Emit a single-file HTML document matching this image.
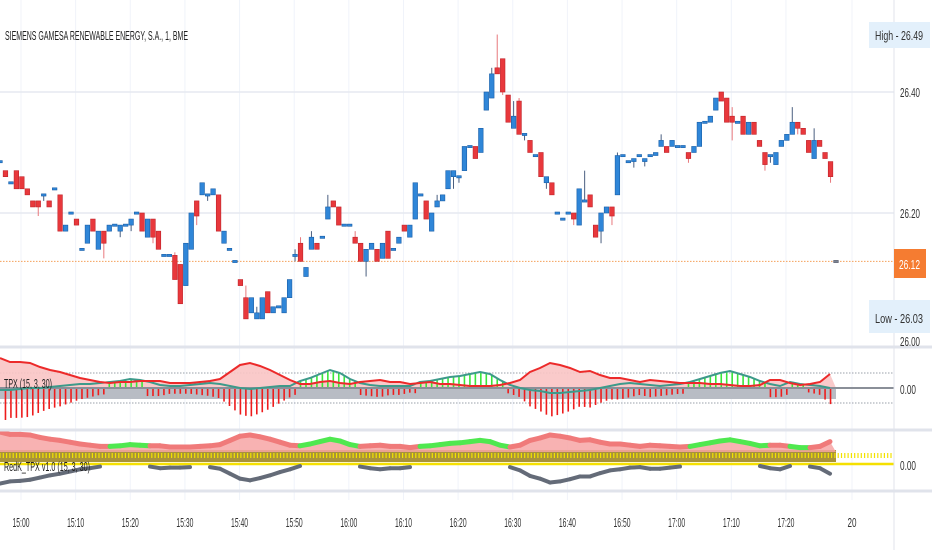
<!DOCTYPE html>
<html><head><meta charset="utf-8"><style>
html,body{margin:0;padding:0;background:#fff;width:932px;height:550px;overflow:hidden}
svg{display:block;font-family:"Liberation Sans",sans-serif}
</style></head><body>
<svg id="chart" width="932" height="550" viewBox="0 0 932 550" xmlns="http://www.w3.org/2000/svg">
<g id="grid"></g>
<g id="candles"></g>
<g id="p2"></g>
<g id="p3"></g>
<g id="axes"></g>
</svg>
<script>
// ---- data ----
const opens  = [26.285,26.27,26.25,26.27,26.26,26.24,26.22,26.22,26.23,26.22,26.24,26.23,26.17,26.2,26.19,26.14,26.15,26.19,26.14,26.17,26.17,26.18,26.17,26.18,26.18,26.2,26.2,26.16,26.19,26.17,26.13,26.13,26.13,26.115,26.08,26.14,26.22,26.23,26.23,26.23,26.23,26.15,26.14,26.12,26.09,26.06,26.035,26.025,26.025,26.07,26.035,26.045,26.035,26.06,26.13,26.15,26.095,26.14,26.15,26.16,26.19,26.22,26.21,26.18,26.18,26.16,26.15,26.12,26.14,26.14,26.125,26.17,26.14,26.15,26.18,26.16,26.19,26.23,26.22,26.17,26.21,26.22,26.24,26.26,26.26,26.27,26.31,26.31,26.3,26.37,26.39,26.44,26.455,26.395,26.34,26.385,26.33,26.32,26.295,26.3,26.25,26.25,26.2,26.19,26.2,26.2,26.18,26.22,26.23,26.18,26.17,26.2,26.21,26.23,26.295,26.285,26.285,26.295,26.285,26.295,26.295,26.31,26.31,26.31,26.31,26.31,26.3,26.3,26.31,26.35,26.35,26.37,26.4,26.39,26.36,26.35,26.36,26.33,26.35,26.32,26.3,26.295,26.28,26.31,26.32,26.33,26.35,26.34,26.32,26.29,26.32,26.3,26.285,26.12];
const closes = [26.285,26.26,26.25,26.24,26.24,26.23,26.21,26.21,26.23,26.21,26.24,26.17,26.18,26.2,26.18,26.14,26.18,26.17,26.17,26.15,26.18,26.18,26.18,26.18,26.19,26.2,26.17,26.19,26.16,26.14,26.13,26.13,26.09,26.05,26.15,26.2,26.195,26.25,26.23,26.24,26.17,26.17,26.14,26.12,26.08,26.025,26.06,26.035,26.06,26.035,26.045,26.045,26.06,26.09,26.13,26.12,26.11,26.16,26.14,26.16,26.21,26.21,26.18,26.18,26.18,26.15,26.12,26.14,26.15,26.12,26.15,26.125,26.14,26.16,26.17,26.18,26.25,26.23,26.19,26.2,26.22,26.23,26.27,26.27,26.26,26.31,26.31,26.29,26.34,26.4,26.43,26.43,26.4,26.35,26.36,26.33,26.33,26.3,26.295,26.26,26.26,26.23,26.2,26.19,26.2,26.19,26.24,26.22,26.21,26.16,26.2,26.21,26.195,26.295,26.295,26.285,26.29,26.295,26.29,26.295,26.3,26.32,26.3,26.32,26.31,26.31,26.29,26.31,26.35,26.35,26.36,26.39,26.385,26.35,26.35,26.35,26.33,26.35,26.33,26.31,26.28,26.295,26.3,26.32,26.33,26.35,26.34,26.33,26.3,26.32,26.31,26.29,26.26,26.12];
const highs = {7:26.22,8:26.23,32:26.135,45:26.08,47:26.045,54:26.14,55:26.16,57:26.17,60:26.23,65:26.17,80:26.23,90:26.44,91:26.495,94:26.385,95:26.39,107:26.27,113:26.3,121:26.33,134:26.375,145:26.375,149:26.34};
const lows  = {7:26.195,8:26.22,19:26.125,22:26.16,24:26.17,28:26.15,36:26.18,38:26.22,54:26.12,67:26.095,83:26.24,84:26.25,92:26.395,96:26.32,100:26.24,105:26.18,110:26.15,112:26.18,116:26.275,118:26.277,126:26.283,134:26.32,140:26.27,141:26.283,146:26.33,152:26.25};
const bearVals = [30,26,26,25,21,18,16,13,10,8,6,5,6,6,7,7,7,5,5,5,6,7,9,16,23,25,22,18,13,8,4,4,6,7,5,4,6,7,8,6,6,4,5,6,4,4,3,2,2,2,3,5,8,16,20,25,23,20,16,17,13,10,10,8,6,8,7,6,5,5,5,4,4,3,2,2,3,8,8,5,3,4,6,14];
const bullVals = [-2,-2,-1,0,0,1,2,3,4,4,5,6,7,9,8,6,3,2,2,3,4,5,4,2,0,-1,0,1,2,2,7,10,14,18,15,9,5,3,2,2,2,2,6,7,9,11,12,14,16,14,8,3,0,-2,-3,-5,-5,-4,-3,-2,0,2,4,5,4,3,2,3,4,6,9,12,15,17,14,11,7,4,2,6,4,3,2,0];
const timeLabels = ["15:00","15:10","15:20","15:30","15:40","15:50","16:00","16:10","16:20","16:30","16:40","16:50","17:00","17:10","17:20","20"];
const priceTicks = [26.40,26.20];

const NS="http://www.w3.org/2000/svg";
const step=5.464;
const xIdx=i=>i*step;
const yP=p=>92+(26.40-p)*605;
const z2=388, y2=v=>z2-v;
const z3=464;
const sx=i=>i*10;
function el(tag,attrs,parent,text){const e=document.createElementNS(NS,tag);for(const k in attrs)e.setAttribute(k,attrs[k]);if(text!==undefined)e.textContent=text;parent.appendChild(e);return e;}
const G=id=>document.getElementById(id);
const tickX=k=>k==15?852:21+k*54.64;

const grid=G('grid');
timeLabels.forEach((t,k)=>{const x=tickX(k);
 const ln=el('line',{x1:x,x2:x,y1:0,y2:500,stroke:'#f0f3fa','stroke-width':1},grid);
 
 });
priceTicks.forEach(p=>{const ln=el('line',{x1:0,x2:894,y1:yP(p),y2:yP(p),stroke:'#e6e9f0','stroke-width':1.5},grid);
 
 });
const lp=el('line',{x1:0,x2:894,y1:yP(26.12),y2:yP(26.12),stroke:'#f5a05a','stroke-width':1,'stroke-dasharray':'1.5,1.5'},grid);



const cg=G('candles');
opens.forEach((o,i)=>{const c=closes[i];const up=c>=o;const x=xIdx(i);
 const hi=highs[i]!==undefined?highs[i]:Math.max(o,c);const lo=lows[i]!==undefined?lows[i]:Math.min(o,c);
 const last=i==opens.length-1;
 const col=last?'#7a8594':(up?'#2f86d8':'#e8383c');const dk=last?'#556':(up?'#1a5fa8':'#c0232a');
 const g=el('g',{},cg);
 
 
 el('line',{x1:x,x2:x,y1:yP(hi),y2:yP(lo),stroke:up?'#4a5f80':'#e8787c','stroke-width':1},g);
 const top=yP(Math.max(o,c)),h=Math.max(2.2,yP(Math.min(o,c))-top);
 el('rect',{x:x-2.3,y:top-(h<=2.2?1:0),width:4.6,height:h,fill:col,stroke:dk,'stroke-width':0.6},g);});

const p2=G('p2');
el('rect',{x:0,y:z2,width:836,height:11,fill:'#b8bcc4'},p2);
[373,403].forEach(y=>el('line',{x1:0,x2:894,y1:y,y2:y,stroke:'#9aa0aa','stroke-width':1,'stroke-dasharray':'1.5,1.5'},p2));
const bearPts=bearVals.map((v,i)=>[Math.min(sx(i),836),y2(v)]);
const bullPts=bullVals.map((v,i)=>[Math.min(sx(i),836),y2(v)]);
const ptsStr=a=>a.map(p=>p[0]+','+p[1]).join(' ');
el('polygon',{points:'0,'+z2+' '+ptsStr(bearPts)+' 836,'+z2,fill:'#f9c4c4',opacity:0.9},p2);
const valAt=(arr,x)=>{const f=x/10,i=Math.floor(f),t=f-i;const a=arr[Math.min(i,arr.length-1)],b=arr[Math.min(i+1,arr.length-1)];return a+(b-a)*t;};
for(let i=1;i<opens.length-1;i++){const x=xIdx(i);const be=valAt(bearVals,x),bu=valAt(bullVals,x);
 let y1,y2v,col;
 if(bu>be){y1=y2(bu);y2v=z2;col='#39e639';}else{y1=z2;y2v=z2+be*1.15;col='#ee1c1c';}
 const b=el('line',{x1:x,x2:x,y1:y1,y2:y2v,stroke:col,'stroke-width':1.6},p2);
 
 }
el('line',{x1:0,x2:894,y1:z2,y2:z2,stroke:'#8a8f98','stroke-width':2},p2);
const bl=el('polyline',{points:ptsStr(bullPts),fill:'none',stroke:'#3d9a8a','stroke-width':2},p2);


const rl=el('polyline',{points:ptsStr(bearPts),fill:'none',stroke:'#ec2a2a','stroke-width':2},p2);



const p3=G('p3');
el('rect',{x:0,y:450,width:836,height:12,fill:'#a8923a'},p3);
for(let x=0;x<894;x+=3.3){el('line',{x1:x,x2:x,y1:453,y2:458,stroke:'#f2e200','stroke-width':1.2},p3);}
el('line',{x1:0,x2:894,y1:z3,y2:z3,stroke:'#f5e000','stroke-width':2.5},p3);
const band=bearVals.map((v,i)=>{const m=Math.max(v,bullVals[i]);return [Math.min(sx(i),836),450-m*0.6];});
el('polygon',{points:'0,452 '+ptsStr(band)+' 836,452',fill:'#f7a5a5',opacity:0.85},p3);
for(let i=0;i<band.length-1;i++){const bull=bullVals[i]>bearVals[i];
 const s=el('line',{x1:band[i][0],y1:band[i][1],x2:band[i+1][0],y2:band[i+1][1],stroke:bull?'#4fe84f':'#f07a7a','stroke-width':5,'stroke-linecap':'round'},p3);
 
 }
for(let i=0;i<bearVals.length-1;i++){const d1=bearVals[i]-bullVals[i],d2=bearVals[i+1]-bullVals[i+1];
 if(d1>2||d2>2){const s=el('line',{x1:sx(i),y1:z3+Math.max(d1,0)*0.55+2,x2:Math.min(sx(i+1),836),y2:z3+Math.max(d2,0)*0.55+2,stroke:'#646b78','stroke-width':4,'stroke-linecap':'round'},p3);
 
 }}

const ax=G('axes');
[347,430,491].forEach(y=>el('line',{x1:0,x2:932,y1:y,y2:y,stroke:'#e0e3eb','stroke-width':3},ax));
el('line',{x1:894,x2:894,y1:0,y2:550,stroke:'#e0e3eb','stroke-width':1},ax);
const tf='font-size:12px;fill:#333';
function txt(x,y,s,name,len,style,anchor){const t=el('text',{x:x,y:y,style:style||tf,'text-anchor':anchor||'start'},ax,s);if(len)t.setAttribute('textLength',len);t.setAttribute('lengthAdjust','spacingAndGlyphs');return t;}
txt(5,40,'SIEMENS GAMESA RENEWABLE ENERGY, S.A., 1, BME','chart-title',183,'font-size:13px;fill:#222');
priceTicks.forEach(p=>txt(900,yP(p)+5,p.toFixed(2),'price-tick',20,'font-size:13px;fill:#333'));
txt(900,346,'26.00','price-tick',20,'font-size:13px;fill:#333');
el('rect',{x:869,y:22,width:61,height:26,fill:'#e3f0fb'},ax);
txt(875,40,'High - 26.49','high-label',48,'font-size:13px;fill:#333');
el('rect',{x:869,y:300,width:61,height:33,fill:'#e3f0fb'},ax);
txt(875,323,'Low - 26.03','low-label',48,'font-size:13px;fill:#333');
const ob=el('rect',{x:894,y:249,width:32,height:29,fill:'#f57c31'},ax);


txt(899,269,'26.12','last-price-label',21,'font-size:13px;fill:#fff');
txt(900,394,'0.00','tpx-zero-label',16,'font-size:13px;fill:#333');
txt(900,470,'0.00','redk-zero-label',16,'font-size:13px;fill:#333');
txt(4,388,'TPX (15, 3, 30)','tpx-legend',48,'font-size:13px;fill:#222');
txt(4,471,'RedK_TPX v1.0 (15, 3, 30)','redk-legend',86,'font-size:13px;fill:#222');
timeLabels.forEach((t,k)=>{txt(tickX(k),527,t,'time-tick',t.length>2?17:9,'font-size:13px;fill:#333','middle');});
</script>
</body></html>
